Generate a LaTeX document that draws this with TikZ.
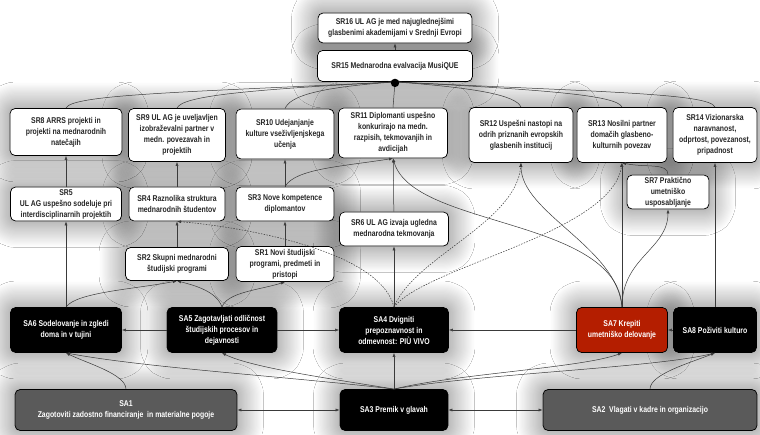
\documentclass[tikz,border=0pt]{standalone}
\usepackage{fontspec}
\setmainfont{Liberation Sans}[FakeStretch=0.82]
\usetikzlibrary{arrows.meta,shadows.blur}
\pgfdeclarelayer{halo}
\pgfsetlayers{halo,main}
\definecolor{sared}{HTML}{B41E00}
\definecolor{sagray}{HTML}{5A5A5A}
\definecolor{wire}{HTML}{3A3A3A}
\tikzset{
  box/.style={draw=black, line width=0.8pt, rounded corners=5pt, align=center,
    inner sep=1pt, font=\fontsize{8.4}{11}\selectfont\bfseries},
  srbox/.style={box, fill=white, text=black!85},
  sabox/.style={box, fill=black, text=white},
  haze/.style={fill=white, rounded corners=5pt,
    blur shadow={shadow xshift=0pt, shadow yshift=0pt, shadow blur radius=26pt,
      shadow blur steps=24, shadow opacity=55}},
  link/.style={draw=wire, line width=0.5pt, -{Latex[length=4pt,width=3pt]}},
  weak/.style={link, dash pattern=on 1.5pt off 1.3pt},
  twoway/.style={draw=wire, line width=0.5pt,
    {Latex[length=4pt,width=3pt]}-{Latex[length=4pt,width=3pt]}},
}
\begin{document}
\begin{tikzpicture}[x=1pt,y=-1pt]
\useasboundingbox (0,0) rectangle (760,434);

% strategic results
\node[srbox, minimum width=154, minimum height=30] (sr16) at (395,28)
  {SR16 UL AG je med najuglednejšimi\\glasbenimi akademijami v Srednji Evropi};
\node[srbox, minimum width=155, minimum height=31] (sr15) at (395,66)
  {SR15 Mednarodna evalvacija MusiQUE};
\node[srbox, minimum width=112, minimum height=47] (sr8) at (66,132)
  {SR8 ARRS projekti in\\projekti na mednarodnih\\natečajih};
\node[srbox, minimum width=97, minimum height=53] (sr9) at (177,135)
  {SR9 UL AG je uveljavljen\\izobraževalni partner v\\medn. povezavah in\\projektih};
\node[srbox, minimum width=98, minimum height=50] (sr10) at (285,134)
  {SR10 Udejanjanje\\kulture vseživljenjskega\\učenja};
\node[srbox, minimum width=109, minimum height=50] (sr11) at (393,133)
  {SR11 Diplomanti uspešno\\konkurirajo na medn.\\razpisih, tekmovanjih in\\avdicijah};
\node[srbox, minimum width=104, minimum height=55] (sr12) at (521,135)
  {SR12 Uspešni nastopi na\\odrih priznanih evropskih\\glasbenih institucij};
\node[srbox, minimum width=90, minimum height=55] (sr13) at (622,135)
  {SR13 Nosilni partner\\domačih glasbeno-\\kulturnih povezav};
\node[srbox, minimum width=84, minimum height=55] (sr14) at (715,135)
  {SR14 Vizionarska\\naravnanost,\\odprtost, povezanost,\\pripadnost};
\node[srbox, minimum width=111, minimum height=34] (sr5) at (66,204)
  {SR5\\UL AG uspešno sodeluje pri\\interdisciplinarnih projektih};
\node[srbox, minimum width=96, minimum height=34] (sr4) at (177,204)
  {SR4 Raznolika struktura\\mednarodnih študentov};
\node[srbox, minimum width=98, minimum height=34] (sr3) at (285,204)
  {SR3 Nove kompetence\\diplomantov};
\node[srbox, minimum width=109, minimum height=34] (sr6) at (394,229)
  {SR6 UL AG izvaja ugledna\\mednarodna tekmovanja};
\node[srbox, minimum width=82, minimum height=34] (sr7) at (668,192)
  {SR7 Praktično\\umetniško\\usposabljanje};
\node[srbox, minimum width=103, minimum height=33] (sr2) at (177,264)
  {SR2 Skupni mednarodni\\študijski programi};
\node[srbox, minimum width=98, minimum height=35] (sr1) at (285,264)
  {SR1 Novi študijski\\programi, predmeti in\\pristopi};

% strategic goals
\node[sabox, minimum width=111, minimum height=45] (sa6) at (66,330)
  {SA6 Sodelovanje in zgledi\\doma in v tujini};
\node[sabox, minimum width=110, minimum height=45] (sa5) at (222,330)
  {SA5 Zagotavljati odličnost\\študijskih procesov in\\dejavnosti};
\node[sabox, minimum width=109, minimum height=45] (sa4) at (394,330)
  {SA4 Dvigniti\\prepoznavnost in\\odmevnost: PIÙ VIVO};
\node[sabox, fill=sared, minimum width=91, minimum height=45] (sa7) at (622,330)
  {SA7 Krepiti\\umetniško delovanje};
\node[sabox, minimum width=83, minimum height=45] (sa8) at (715,330)
  {SA8 Poživiti kulturo};
\node[sabox, fill=sagray, minimum width=222, minimum height=41] (sa1) at (126,410)
  {SA1\\Zagotoviti zadostno financiranje \ in materialne pogoje};
\node[sabox, minimum width=108, minimum height=41] (sa3) at (394,410)
  {SA3 Premik v glavah};
\node[sabox, fill=sagray, minimum width=214, minimum height=41] (sa2) at (650,410)
  {SA2 \ Vlagati v kadre in organizacijo};

% white page with soft halos behind the boxes
\begin{pgfonlayer}{halo}
  \fill[white] (0,0) rectangle (760,434);
  \foreach \n in {sr16,sr15,sr8,sr9,sr10,sr11,sr12,sr13,sr14,sr5,sr4,sr3,sr6,sr7,
                  sr2,sr1,sa6,sa5,sa4,sa7,sa8,sa1,sa3,sa2}
    \path[haze] (\n.south west) rectangle (\n.north east);
\end{pgfonlayer}

% top of the hierarchy
\draw[link] (sr15) -- (sr16);
\draw[link] (sr8.north) .. controls +(5,-14) and +(-200,10) .. (sr15.south);
\draw[link] (sr9.north) .. controls +(5,-12) and +(-150,8) .. (sr15.south);
\draw[link] (sr10.north) .. controls +(5,-12) and +(-80,6) .. (sr15.south);
\draw[link] (sr11.north) -- (sr15.south);
\draw[link] (sr12.north) .. controls +(-5,-12) and +(80,6) .. (sr15.south);
\draw[link] (sr13.north) .. controls +(-5,-12) and +(150,8) .. (sr15.south);
\draw[link] (sr14.north) .. controls +(-5,-14) and +(200,10) .. (sr15.south);
\fill[black] (sr15.south) ++(0,1) circle (4.2);

% middle results
\draw[link] (sr5) -- (sr8);
\draw[link] (sr4) -- (sr9);
\draw[link] (sr3) -- (sr10);
\draw[link] (sr3.north) .. controls +(10,-18) and +(-50,8) .. (sr11.south);
\draw[link] (sr6) -- (sr11);
\draw[link] (sr2) -- (sr4);
\draw[link] (sr1) -- (sr3);
\draw[link] (sr7.north) .. controls +(0,-12) and +(25,5) .. (sr13.south);

% goals to results
\draw[link] (sa6) -- (sr5);
\draw[link] (sa6.north) .. controls +(10,-15) and +(-40,8) .. (sr2.south);
\draw[link] (sa5.north) .. controls +(-5,-15) and +(20,5) .. (sr2.south);
\draw[link] (sa5.north) .. controls +(5,-15) and +(-25,8) .. (sr1.south);
\draw[link] (sa4) -- (sr6);
\draw[weak] (sa4.north) .. controls +(-14,-58) and +(60,5) .. (sr4.south);
\draw[weak] (sa4.north) .. controls +(20,-50) and +(-5,60) .. (sr12.south);
\draw[weak] (sa4.north) .. controls +(30,-40) and +(-10,70) .. (sr13.south);
\draw[link] (sa7.north) .. controls +(-5,-90) and +(20,70) .. (sr11.south);
\draw[link] (sa7.north) .. controls +(-5,-60) and +(0,50) .. (sr12.south);
\draw[link] (sa7) -- (sr13);
\draw[link] (sa7.north) .. controls +(0,-50) and +(0,40) .. (sr7.south);
\draw[link] (sa8) -- (sr14);

% links between goals
\draw[link] (sa5) -- (sa6);
\draw[link] (sa5) -- (sa4);
\draw[link] (sa7) -- (sa4);
\draw[link] (sa8) -- (sa7);
\draw[twoway] (sa1) -- (sa3);
\draw[twoway] (sa3) -- (sa2);
\draw[link] (sa3) -- (sa4);
\draw[link] (sa3.north) .. controls +(-100,-12) and +(80,15) .. (sa6.south);
\draw[link] (sa3.north) .. controls +(-60,-10) and +(30,15) .. (sa5.south);
\draw[link] (sa1.north) .. controls +(0,-15) and +(20,10) .. (sa6.south);
\draw[link] (sa3.north) .. controls +(60,-15) and +(-40,15) .. (sa7.south);
\draw[link] (sa3.north) .. controls +(80,-15) and +(-60,15) .. (sa8.south);
\draw[link] (sa2.north) .. controls +(0,-15) and +(-25,10) .. (sa8.south);
\end{tikzpicture}
\end{document}
